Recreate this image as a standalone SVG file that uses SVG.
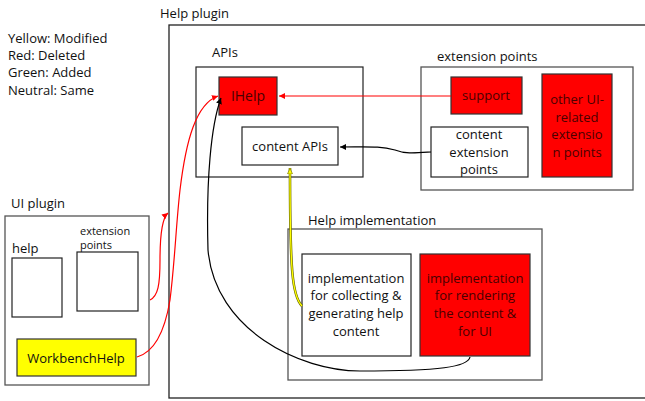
<svg xmlns="http://www.w3.org/2000/svg" width="645" height="401" viewBox="0 0 645 401">
<style>
text{font-family:"Open Sans","Liberation Sans",sans-serif;font-size:13px;fill:#111}
.c{text-anchor:middle}
.box{fill:#fff;stroke:#555;stroke-width:1.3}
.inner{fill:#fff;stroke:#222;stroke-width:1.2}
.red{fill:#ff0000;stroke:#333;stroke-width:1.2}
.rt{fill:#4a0000}
.s{font-size:11px}
</style>
<defs>
<marker id="ar" markerWidth="8" markerHeight="8" refX="6" refY="3" orient="auto" markerUnits="userSpaceOnUse"><path d="M0,0 L6,3 L0,6 z" fill="#ff0000"/></marker>
<marker id="ab" markerWidth="8" markerHeight="8" refX="6" refY="3" orient="auto" markerUnits="userSpaceOnUse"><path d="M0,0 L6,3 L0,6 z" fill="#000"/></marker>
<marker id="ay" markerWidth="8" markerHeight="8" refX="6" refY="3" orient="auto" markerUnits="userSpaceOnUse"><path d="M0,0.5 L6,3 L0,5.5 z" fill="#ffff00" stroke="#666600" stroke-width="0.6"/></marker>
</defs>
<g id="legend">
<text x="8" y="43">Yellow: Modified</text>
<text x="8" y="60">Red: Deleted</text>
<text x="8" y="77">Green: Added</text>
<text x="8" y="95">Neutral: Same</text>
</g>
<g id="help-plugin">
<text x="160" y="18">Help plugin</text>
<rect x="169" y="25" width="490" height="373" fill="#fff" stroke="#222" stroke-width="1.3"/>
</g>
<g id="apis">
<text x="212" y="57">APIs</text>
<rect class="inner" x="196" y="67" width="167" height="110"/>
</g>
<g id="ihelp">
<rect class="red" x="219" y="77" width="58" height="38"/>
<text class="c rt" x="248" y="101" style="font-size:14px">IHelp</text>
</g>
<g id="content-apis">
<rect class="inner" x="242" y="127" width="96" height="38"/>
<text class="c" x="290" y="151">content APIs</text>
</g>
<g id="extension-points">
<text x="437" y="61">extension points</text>
<rect class="box" x="421" y="67" width="212" height="123"/>
</g>
<g id="support">
<rect class="red" x="451" y="77" width="71" height="37"/>
<text class="c rt" x="486" y="100">support</text>
</g>
<g id="other-ui">
<rect class="red" x="542" y="74" width="70" height="103"/>
<text class="c rt" x="577" y="104">other UI-</text>
<text class="c rt" x="577" y="122">related</text>
<text class="c rt" x="577" y="139">extensio</text>
<text class="c rt" x="577" y="157">n points</text>
</g>
<g id="content-extension-points">
<rect class="inner" x="431" y="127" width="97" height="50"/>
<text class="c" x="479" y="139">content</text>
<text class="c" x="479" y="157">extension</text>
<text class="c" x="479" y="174">points</text>
</g>
<g id="help-implementation">
<text x="308" y="225">Help implementation</text>
<rect class="box" x="288" y="229" width="254" height="151"/>
</g>
<g id="impl-collecting">
<rect class="inner" x="302" y="254" width="109" height="102"/>
<text class="c" x="356" y="283">implementation</text>
<text class="c" x="356" y="300">for collecting &amp;</text>
<text class="c" x="356" y="318">generating help</text>
<text class="c" x="356" y="336">content</text>
</g>
<g id="impl-rendering">
<rect class="red" x="420" y="254" width="110" height="102"/>
<text class="c rt" x="475" y="283">implementation</text>
<text class="c rt" x="475" y="300">for rendering</text>
<text class="c rt" x="475" y="318">the content &amp;</text>
<text class="c rt" x="475" y="336">for UI</text>
</g>
<g id="ui-plugin">
<text x="11" y="208">UI plugin</text>
<rect class="box" x="5" y="216" width="144" height="169"/>
</g>
<g id="help">
<text x="12" y="253">help</text>
<rect class="inner" x="12" y="258" width="50" height="59"/>
</g>
<g id="ui-extension-points">
<text class="s" x="80" y="235">extension</text>
<text class="s" x="80" y="249">points</text>
<rect class="inner" x="77" y="252" width="61" height="59"/>
</g>
<g id="workbenchhelp">
<rect x="17" y="339" width="119" height="37" fill="#ffff00" stroke="#333" stroke-width="1.2"/>
<text class="c" x="76" y="363">WorkbenchHelp</text>
</g>
<g id="connectors" fill="none">
<path d="M451,96 L279,96" stroke="#ff0000" stroke-width="1.2" marker-end="url(#ar)"/>
<path d="M431,152 C415,153 405,154 395,150 C380,146 370,147 340,147" stroke="#000" stroke-width="1.2" marker-end="url(#ab)"/>
<path d="M302,306 C292,296 290,270 290,168" stroke="#666600" stroke-width="2.6"/>
<path d="M302,306 C292,296 290,270 290,168" stroke="#ffff00" stroke-width="1.3" marker-end="url(#ay)"/>
<path d="M470,357 C468,367 440,371 360,371 C300,371 215,330 208,250 C206,180 211,125 221,98" stroke="#000" stroke-width="1.2" marker-end="url(#ab)"/>
<path d="M150,300 C158,296 160,285 160,260 C160,235 162,218 168,213" stroke="#ff0000" stroke-width="1.2" marker-end="url(#ar)"/>
<path d="M137,357 C155,352 165,330 170,300 C175,260 176,225 180,190 C186,140 196,104 218,96" stroke="#ff0000" stroke-width="1.2" marker-end="url(#ar)"/>
</g>
</svg>
